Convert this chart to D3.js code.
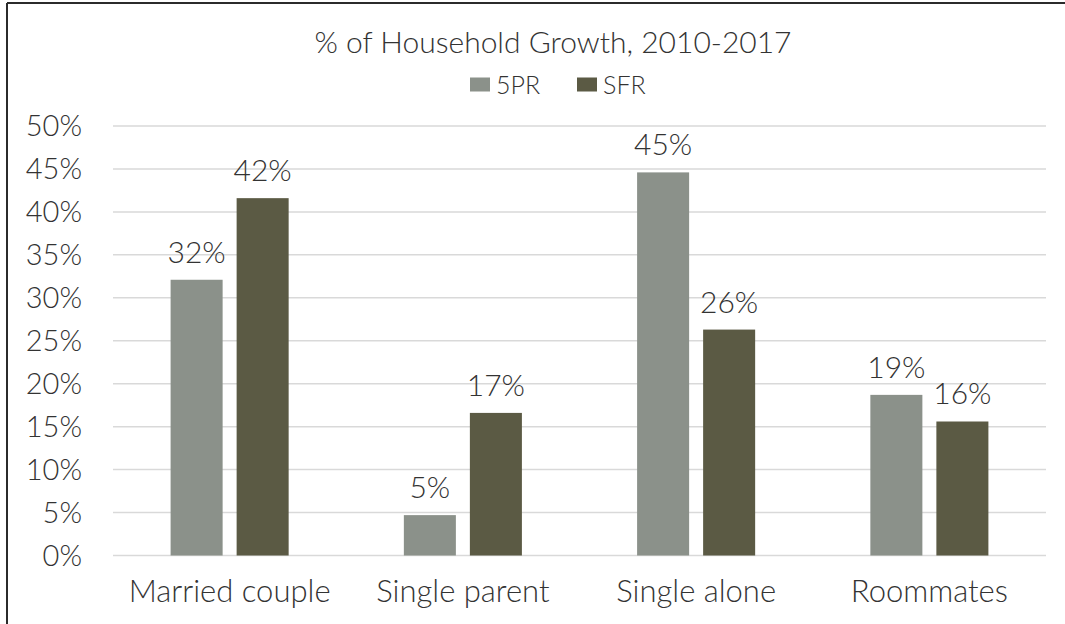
<!DOCTYPE html>
<html>
<head>
<meta charset="utf-8">
<script src="https://cdnjs.cloudflare.com/ajax/libs/d3/7.8.5/d3.min.js"></script>
<style>
  body { margin: 0; background: #fff; }
  svg text { font-family: Lato, "Open Sans", sans-serif; font-weight: 300; fill: #333333; }
</style>
</head>
<body>
<div id="chart"></div>
<script>
var categories = ["Married couple", "Single parent", "Single alone", "Roommates"];
var seriesNames = ["5PR", "SFR"];
var values5PR = [32.1, 4.7, 44.6, 18.7];
var valuesSFR = [41.6, 16.6, 26.3, 15.6];
var yTicks = [0, 5, 10, 15, 20, 25, 30, 35, 40, 45, 50];
var colors = ["#8b918a", "#5b5a44"];

function makeBarChart(divName, title) {
    var width = 1065, height = 624;
    var svg = d3.select(divName).append("svg")
        .attr("width", width)
        .attr("height", height);

    var data = categories.map(function (c, i) {
        return { cat: c, vals: [values5PR[i], valuesSFR[i]] };
    });

    var x0 = d3.scaleBand().domain(categories).range([113, 1046]).padding(0);
    var x1 = d3.scaleBand().domain(seriesNames)
        .range([57.6, x0.bandwidth() - 57.6])
        .paddingInner(0.212).paddingOuter(0);
    var y = d3.scaleLinear().domain([0, 50]).range([555.5, 126]);

    // frame (only top and left edges show)
    svg.append("line").attr("x1", 7).attr("x2", width).attr("y1", 3).attr("y2", 3)
        .attr("stroke", "#2b2b2b").attr("stroke-width", 2);
    svg.append("line").attr("x1", 7).attr("x2", 7).attr("y1", 3).attr("y2", height)
        .attr("stroke", "#2b2b2b").attr("stroke-width", 2);

    // gridlines
    svg.append("g").selectAll("line").data(yTicks).enter().append("line")
        .attr("x1", 113).attr("x2", 1046)
        .attr("y1", function (d) { return y(d); })
        .attr("y2", function (d) { return y(d); })
        .attr("stroke", "#d9d9d9").attr("stroke-width", 1.5);

    // y axis labels
    svg.append("g").selectAll("text").data(yTicks).enter().append("text")
        .attr("x", 82)
        .attr("y", function (d) { return y(d) + 10; })
        .attr("text-anchor", "end")
        .style("font-size", "29px")
        .text(function (d) { return d + "%"; });

    var groups = svg.append("g").selectAll("g").data(data).enter().append("g")
        .attr("transform", function (d) { return "translate(" + x0(d.cat) + ",0)"; });

    groups.selectAll("rect").data(function (d) { return d.vals; }).enter().append("rect")
        .attr("x", function (d, i) { return x1(seriesNames[i]); })
        .attr("y", function (d) { return y(d); })
        .attr("width", x1.bandwidth())
        .attr("height", function (d) { return y(0) - y(d); })
        .attr("fill", function (d, i) { return colors[i]; });

    groups.selectAll("text").data(function (d) { return d.vals; }).enter().append("text")
        .attr("x", function (d, i) { return x1(seriesNames[i]) + x1.bandwidth() / 2; })
        .attr("y", function (d) { return y(d) - 17; })
        .attr("text-anchor", "middle")
        .style("font-size", "30px")
        .text(function (d) { return Math.round(d) + "%"; });

    // category labels
    svg.append("g").selectAll("text").data(categories).enter().append("text")
        .attr("x", function (d) { return x0(d) + x0.bandwidth() / 2; })
        .attr("y", 602)
        .attr("text-anchor", "middle")
        .style("font-size", "31px")
        .text(function (d) { return d; });

    svg.append("text")
        .attr("x", 553)
        .attr("y", 53)
        .attr("text-anchor", "middle")
        .style("font-size", "30px")
        .text(title);

    // legend
    var legendX = [470, 577];
    var legend = svg.append("g").selectAll("g").data(seriesNames).enter().append("g")
        .attr("transform", function (d, i) { return "translate(" + legendX[i] + ",0)"; });
    legend.append("rect")
        .attr("x", 0).attr("y", 77.5).attr("width", 20).attr("height", 14)
        .attr("fill", function (d, i) { return colors[i]; });
    legend.append("text")
        .attr("x", 26).attr("y", 94)
        .style("font-size", "25px")
        .text(function (d) { return d; });
}

makeBarChart("#chart", "% of Household Growth, 2010-2017");
</script>
</body>
</html>
